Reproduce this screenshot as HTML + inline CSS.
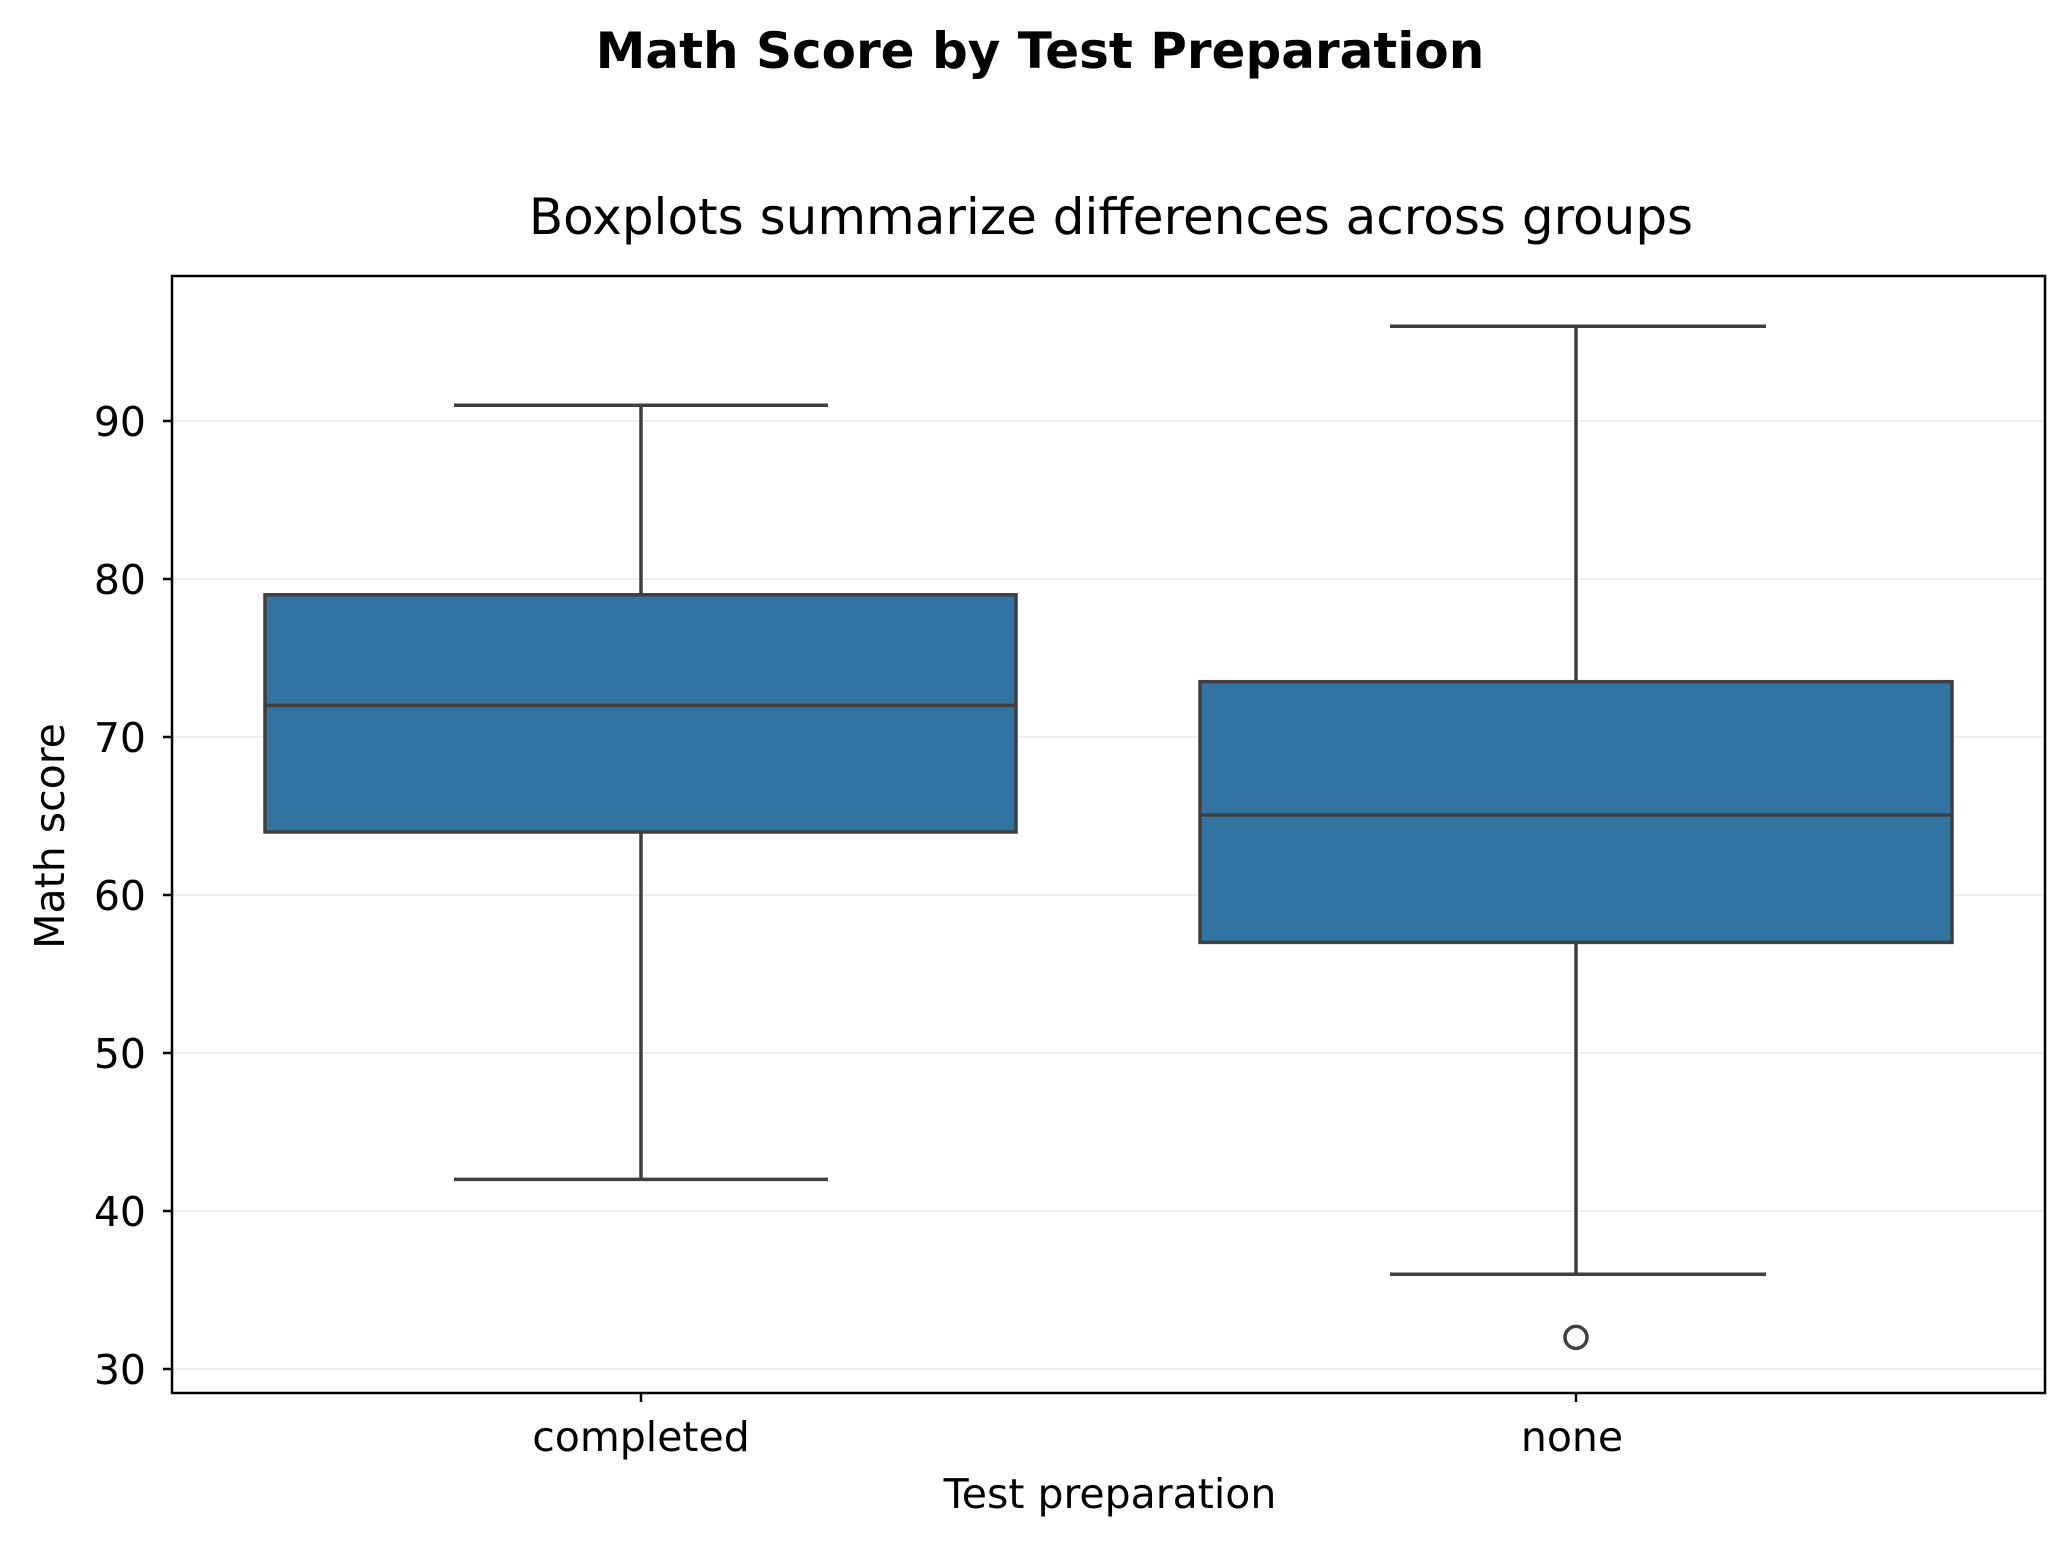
<!DOCTYPE html>
<html><head><style>body{margin:0;background:#fff}</style></head><body>
<svg width="2070" height="1547" xmlns="http://www.w3.org/2000/svg" font-family="DejaVu Sans, Liberation Sans, sans-serif">
<rect width="2070" height="1547" fill="#fff"/>
<text x="1040" y="68" font-size="50" font-weight="bold" text-anchor="middle">Math Score by Test Preparation</text>
<text x="1111" y="234" font-size="50" text-anchor="middle">Boxplots summarize differences across groups</text>
<g stroke="#e8e8e8" stroke-width="1.5">
<line x1="172" x2="2045" y1="1369" y2="1369"/><line x1="172" x2="2045" y1="1211" y2="1211"/>
<line x1="172" x2="2045" y1="1053" y2="1053"/><line x1="172" x2="2045" y1="895" y2="895"/>
<line x1="172" x2="2045" y1="737" y2="737"/><line x1="172" x2="2045" y1="579" y2="579"/>
<line x1="172" x2="2045" y1="421" y2="421"/></g>
<g stroke="#3f3f3f" stroke-width="3.5" fill="#3274a1">
<line x1="641" x2="641" y1="832" y2="1179.4"/><line x1="641" x2="641" y1="594.8" y2="405.2"/>
<line x1="454" x2="828" y1="1179.4" y2="1179.4"/><line x1="454" x2="828" y1="405.2" y2="405.2"/>
<rect x="265" y="594.8" width="751" height="237.2"/>
<line x1="265" x2="1016" y1="705.4" y2="705.4"/>
<line x1="1576" x2="1576" y1="942.4" y2="1274.2"/><line x1="1576" x2="1576" y1="681.7" y2="326.2"/>
<line x1="1390" x2="1766" y1="1274.2" y2="1274.2"/><line x1="1390" x2="1766" y1="326.2" y2="326.2"/>
<rect x="1200" y="681.7" width="752" height="260.7"/>
<line x1="1200" x2="1952" y1="815" y2="815"/>
<circle cx="1576" cy="1337.4" r="11" fill="none"/>
</g>
<rect x="172" y="276" width="1873" height="1117" fill="none" stroke="#000" stroke-width="2.5"/>
<g stroke="#000" stroke-width="2.5">
<line x1="163" x2="172" y1="1369" y2="1369"/><line x1="163" x2="172" y1="1211" y2="1211"/>
<line x1="163" x2="172" y1="1053" y2="1053"/><line x1="163" x2="172" y1="895" y2="895"/>
<line x1="163" x2="172" y1="737" y2="737"/><line x1="163" x2="172" y1="579" y2="579"/>
<line x1="163" x2="172" y1="421" y2="421"/>
<line x1="641" x2="641" y1="1393" y2="1402"/><line x1="1576" x2="1576" y1="1393" y2="1402"/></g>
<g font-size="41" text-anchor="end">
<text x="146" y="1384">30</text><text x="146" y="1226">40</text><text x="146" y="1068">50</text>
<text x="146" y="910">60</text><text x="146" y="752">70</text><text x="146" y="594">80</text><text x="146" y="436">90</text></g>
<g font-size="41" text-anchor="middle">
<text x="641" y="1451">completed</text><text x="1572" y="1451">none</text>
<text x="1110" y="1508">Test preparation</text>
<text transform="translate(64,836) rotate(-90)">Math score</text></g>
</svg>
</body></html>
